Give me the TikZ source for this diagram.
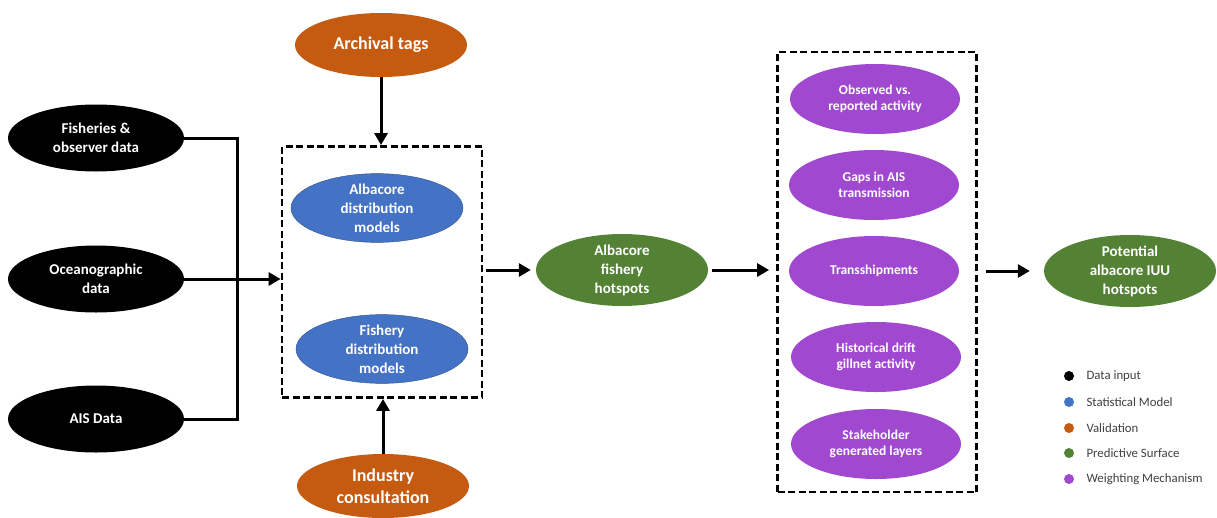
\documentclass[tikz,border=0pt]{standalone}
\usepackage{fontspec}
\setmainfont{Carlito}
\usepackage{tikz}
\usetikzlibrary{shapes,arrows.meta,positioning,calc}
\definecolor{datablack}{RGB}{0,0,0}
\definecolor{statblue}{RGB}{68,114,196}
\definecolor{validorange}{RGB}{197,90,17}
\definecolor{surfgreen}{RGB}{84,130,53}
\definecolor{weightpurple}{RGB}{160,72,208}
\definecolor{legendgray}{RGB}{64,64,64}

\begin{document}
\begin{tikzpicture}[x=1pt, y=-1pt,
    blob/.style={ellipse, inner sep=0pt, minimum width=172pt, minimum height=67pt,
        text=white, align=center, font=\bfseries\fontsize{15}{19}\selectfont},
    datain/.style={blob, fill=datablack, minimum width=176pt},
    stat/.style={blob, fill=statblue, draw=statblue!70!black, thin},
    valid/.style={blob, fill=validorange, minimum height=64pt, font=\bfseries\fontsize{18}{22}\selectfont},
    surface/.style={blob, fill=surfgreen, minimum width=172pt, minimum height=68pt},
    weight/.style={blob, fill=weightpurple, minimum width=170pt, minimum height=70pt,
        font=\bfseries\fontsize{13.5}{16.5}\selectfont},
    groupbox/.style={rectangle, draw, line width=2.8pt, dash pattern=on 7pt off 3.5pt},
    link/.style={line width=3pt},
    arrow/.style={link, -{Triangle[length=12pt, width=13pt]}},
    keydot/.style={circle, inner sep=0pt, minimum size=10pt},
    keytext/.style={right, text=legendgray, font=\fontsize{12.8}{14}\selectfont}
]
    \useasboundingbox (0,0) rectangle (1217,517);

    % data inputs
    \node[datain] (fish) at (96,138) {Fisheries \&\\observer data};
    \node[datain] (ocean) at (96,279) {Oceanographic\\data};
    \node[datain] (ais) at (96,419) {AIS Data};

    % statistical models
    \node[groupbox, minimum width=200pt, minimum height=251pt] (models) at (382,272) {};
    \node[stat] (albmod) at (377,208) {Albacore\\distribution\\models};
    \node[stat] (fishmod) at (382,349) {Fishery\\distribution\\models};

    % validation
    \node[valid] (archival) at (381,45) {Archival tags};
    \node[valid] (industry) at (383,486) {Industry\\consultation};

    % predictive surfaces
    \node[surface] (hotspots) at (622,270) {Albacore\\fishery\\hotspots};
    \node[surface] (iuu) at (1130,271) {Potential\\albacore IUU\\hotspots};

    % weighting mechanisms
    \node[groupbox, minimum width=199pt, minimum height=440pt] (weights) at (877,272) {};
    \node[weight] (observed) at (875,99) {Observed vs.\\reported activity};
    \node[weight] (gaps) at (874,185) {Gaps in AIS\\transmission};
    \node[weight] (tship) at (874,271) {Transshipments};
    \node[weight] (drift) at (876,357) {Historical drift\\gillnet activity};
    \node[weight] (stake) at (876,444) {Stakeholder\\generated layers};

    % connectors
    \coordinate (join) at (237,279);
    \draw[link] (fish.east) -| (join);
    \draw[link] (ais.east) -| (join);
    \draw[arrow] (ocean.east) -- (ocean.east -| models.west);
    \draw[arrow] (archival.south) -- (archival.south |- models.north);
    \draw[arrow] (industry.north) -- (industry.north |- models.south);
    \draw[arrow, shorten <=3pt, shorten >=5pt] (models.east |- hotspots.west) -- (hotspots.west);
    \draw[arrow, shorten <=4pt, shorten >=7pt] (hotspots.east) -- (hotspots.east -| weights.west);
    \draw[arrow, shorten <=8pt, shorten >=14pt] (weights.east |- iuu.west) -- (iuu.west);

    % legend
    \node[keydot, fill=datablack] (k1) at (1069,376) {};
    \node[keydot, fill=statblue] (k2) at (1069,402) {};
    \node[keydot, fill=validorange] (k3) at (1069,428) {};
    \node[keydot, fill=surfgreen] (k4) at (1069,453) {};
    \node[keydot, fill=weightpurple] (k5) at (1069,479) {};
    \node[keytext] at ($(k1)+(14,0)$) {Data input};
    \node[keytext] at ($(k2)+(14,0)$) {Statistical Model};
    \node[keytext] at ($(k3)+(14,0)$) {Validation};
    \node[keytext] at ($(k4)+(14,0)$) {Predictive Surface};
    \node[keytext] at ($(k5)+(14,0)$) {Weighting Mechanism};
\end{tikzpicture}
\end{document}
